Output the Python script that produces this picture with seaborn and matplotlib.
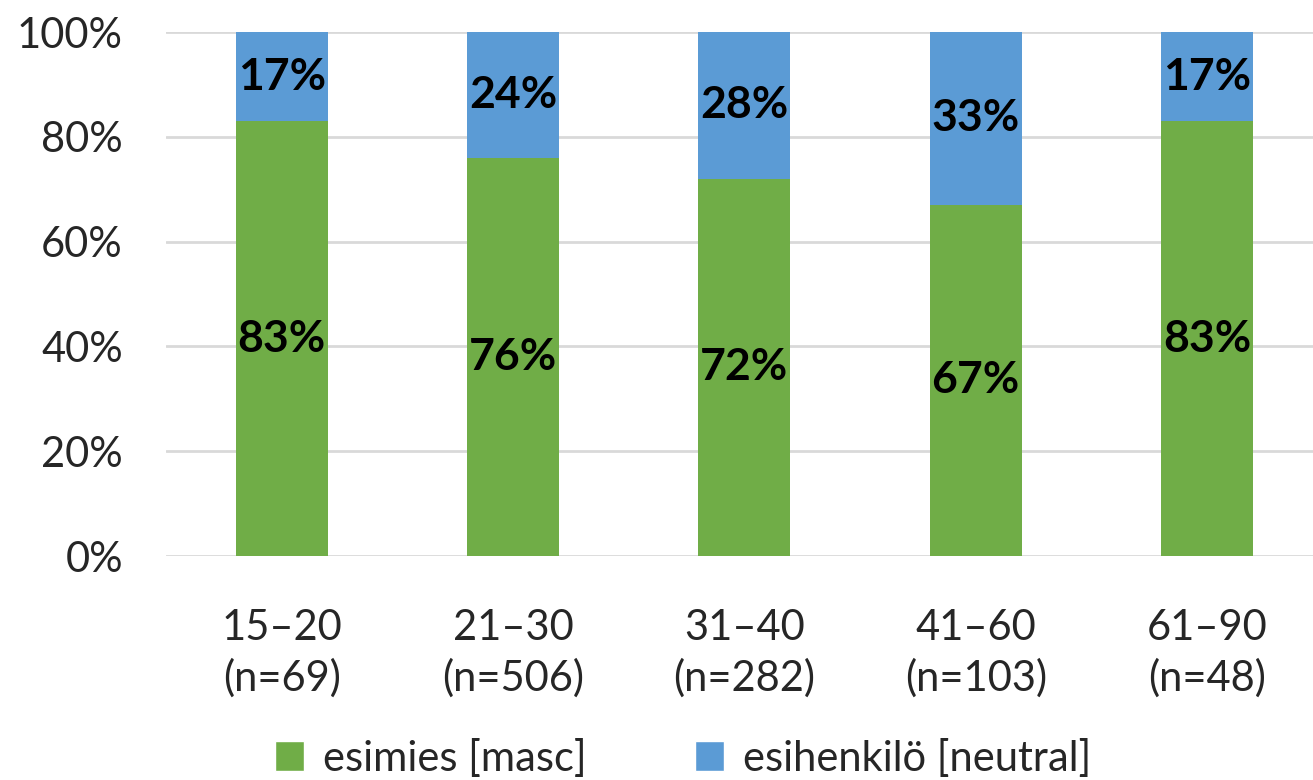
import matplotlib
matplotlib.use("Agg")
import matplotlib.pyplot as plt
from matplotlib.patches import Patch
from matplotlib.ticker import FuncFormatter
import seaborn as sns
import pandas as pd

# Age groups with respondent counts
age_groups = ["15–20", "21–30", "31–40", "41–60", "61–90"]
group_sizes = [69, 506, 282, 103, 48]

# Share of each word form (%)
esimies = [83, 76, 72, 67, 83]
esihenkilo = [17, 24, 28, 33, 17]

series_names = ["esimies [masc]", "esihenkilö [neutral]"]
green = "#70AD47"
blue = "#5B9BD5"

sns.set_theme(style="white")
plt.rcParams["font.family"] = ["Lato", "DejaVu Sans"]

tick_labels = [f"{g}\n(n={n})" for g, n in zip(age_groups, group_sizes)]
df = pd.DataFrame({
    "group": tick_labels,
    "esimies": esimies,
    "esihenkilo": esihenkilo,
})
df["total"] = df["esimies"] + df["esihenkilo"]

fig = plt.figure(figsize=(13.13, 7.8), dpi=100)
ax = fig.add_axes([166 / 1313, 1 - 556 / 780, (1313 - 166) / 1313, (556 - 32) / 780])

sns.barplot(data=df, x="group", y="total", color=blue, width=0.398,
            saturation=1, ax=ax, linewidth=0)
sns.barplot(data=df, x="group", y="esimies", color=green, width=0.398,
            saturation=1, ax=ax, linewidth=0)

for i, (g, b) in enumerate(zip(esimies, esihenkilo)):
    ax.text(i, g / 2, f"{g}%", ha="center", va="center",
            fontsize=32, fontweight="bold", color="black")
    ax.text(i, g + b / 2, f"{b}%", ha="center", va="center",
            fontsize=32, fontweight="bold", color="black")

ax.set_ylim(0, 100)
ax.set_xlim(-0.5, 4.458)
ax.set_yticks(range(0, 101, 20))
ax.yaxis.set_major_formatter(FuncFormatter(lambda v, _: f"{v:.0f}%"))
ax.yaxis.grid(True, color="#D9D9D9", linewidth=2)
ax.set_axisbelow(True)
for s in ax.spines.values():
    s.set_visible(False)
ax.set_xlabel("")
ax.set_ylabel("")
ax.tick_params(axis="y", labelsize=30, pad=31, length=0)
ax.tick_params(axis="x", labelsize=30, pad=38, length=0)
for lbl in ax.get_xticklabels():
    lbl.set_linespacing(1.35)

handles = [Patch(facecolor=green, label=series_names[0]),
           Patch(facecolor=blue, label=series_names[1])]
fig.legend(handles=handles, loc="lower center", ncol=2, frameon=False,
           fontsize=30, bbox_to_anchor=(0.52, -0.045), handlelength=0.7,
           handleheight=0.7, handletextpad=0.45, columnspacing=2.6)

fig.savefig("out.png", dpi=100)
